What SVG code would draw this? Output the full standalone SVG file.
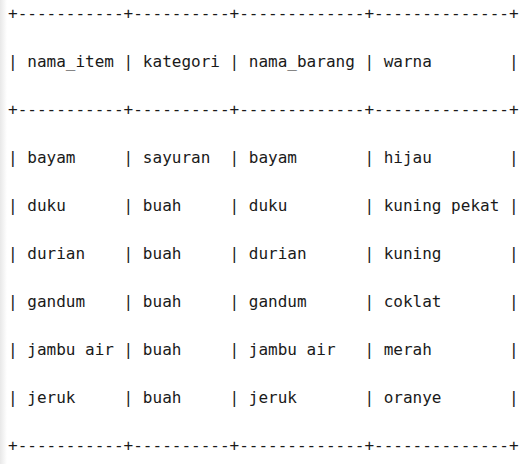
<svg xmlns="http://www.w3.org/2000/svg" width="528" height="464" viewBox="0 0 528 464">
<defs>
<linearGradient id="edge" x1="0" y1="0" x2="1" y2="0">
<stop offset="0" stop-color="#e8e8e8"/>
<stop offset="1" stop-color="#ffffff"/>
</linearGradient>
<style>
text { font-family: "DejaVu Sans Mono", "Liberation Mono", monospace; font-size: 16px; fill: #1a1a1a; white-space: pre; }
</style>
</defs>
<rect width="528" height="464" fill="#ffffff"/>
<rect width="7" height="464" fill="url(#edge)"/>
<g id="table" xml:space="preserve">
<text x="8" y="19">+-----------+----------+-------------+--------------+</text>
<text x="8" y="67">| nama_item | kategori | nama_barang | warna        |</text>
<text x="8" y="115">+-----------+----------+-------------+--------------+</text>
<text x="8" y="163">| bayam     | sayuran  | bayam       | hijau        |</text>
<text x="8" y="211">| duku      | buah     | duku        | kuning pekat |</text>
<text x="8" y="259">| durian    | buah     | durian      | kuning       |</text>
<text x="8" y="307">| gandum    | buah     | gandum      | coklat       |</text>
<text x="8" y="355">| jambu air | buah     | jambu air   | merah        |</text>
<text x="8" y="403">| jeruk     | buah     | jeruk       | oranye       |</text>
<text x="8" y="451">+-----------+----------+-------------+--------------+</text>
</g>
</svg>
